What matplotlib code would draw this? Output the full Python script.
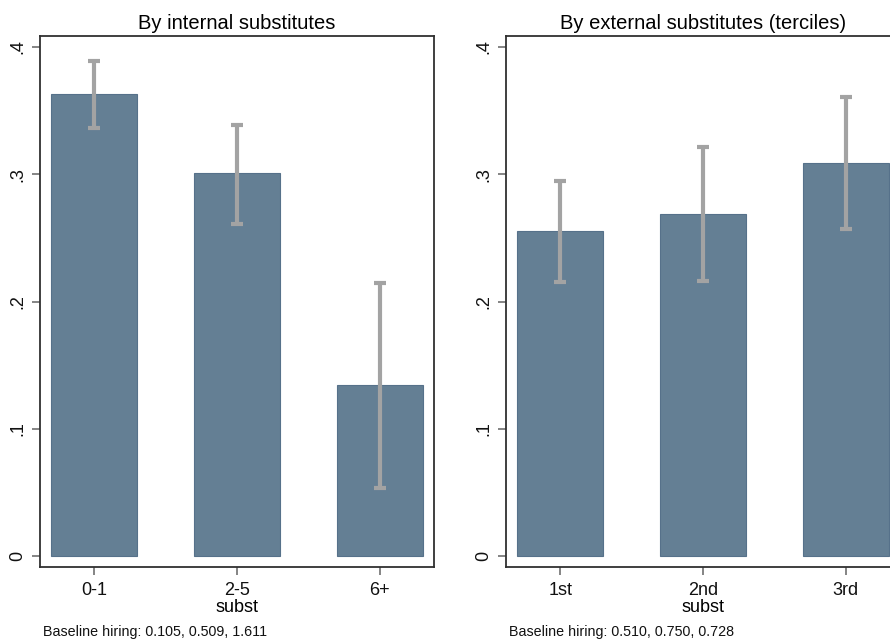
import numpy as np
import matplotlib
matplotlib.use("Agg")
import matplotlib.pyplot as plt

plt.rcParams["font.family"] = ["Liberation Sans", "DejaVu Sans"]

# data
int_labels = ["0-1", "2-5", "6+"]
int_means = [0.3628, 0.3007, 0.1341]
int_lo = [0.3361, 0.2611, 0.0532]
int_hi = [0.3892, 0.3389, 0.2148]

ext_labels = ["1st", "2nd", "3rd"]
ext_means = [0.2552, 0.2685, 0.3086]
ext_lo = [0.2153, 0.2163, 0.2570]
ext_hi = [0.2949, 0.3212, 0.3605]

titles = ["By internal substitutes", "By external substitutes (terciles)"]
notes = ["Baseline hiring: 0.105, 0.509, 1.611", "Baseline hiring: 0.510, 0.750, 0.728"]

BAR = "#647f94"
EDGE = "#56718a"
ERR = "#a3a3a3"
FRAME = "#303030"

W, H = 890, 641
fig = plt.figure(figsize=(W / 100, H / 100), dpi=100)

panels = [
    (40, int_labels, int_means, int_lo, int_hi),
    (506, ext_labels, ext_means, ext_lo, ext_hi),
]

for i, (x0, labels, means, lo, hi) in enumerate(panels):
    ax = fig.add_axes([x0 / W, 1 - 567 / H, 394 / W, (567 - 36) / H])
    x = np.arange(1, len(labels) + 1)
    means = np.array(means)
    ax.bar(x, means, width=0.6, color=BAR, edgecolor=EDGE, linewidth=0.8, zorder=2)
    ax.errorbar(x, means, yerr=[means - np.array(lo), np.array(hi) - means],
                fmt="none", ecolor=ERR, elinewidth=3.0, capsize=4.0,
                capthick=3.0, zorder=3)
    ax.set_xlim(0.62, 3.38)
    ax.set_ylim(-0.0086, 0.4086)
    ax.set_yticks([0, 0.1, 0.2, 0.3, 0.4])
    ax.set_yticklabels(["0", ".1", ".2", ".3", ".4"], rotation=90, va="center")
    ax.set_xticks(x)
    ax.set_xticklabels(labels)
    ax.tick_params(axis="both", direction="out", length=6, width=1.2, color="#707070",
                   labelsize=13, labelcolor="#111111", pad=4)
    ax.tick_params(axis="x", pad=5)
    for s in ax.spines.values():
        s.set_color(FRAME)
        s.set_linewidth(1.3)
    ax.set_xlabel("subst", fontsize=13, labelpad=0)
    ax.set_title(titles[i], fontsize=14.5, pad=5)
    fig.text((x0 + 3) / W, 1 - 632 / H, notes[i], fontsize=10.3, va="center", ha="left",
             color="#111111")

fig.savefig("out.png", dpi=100)
